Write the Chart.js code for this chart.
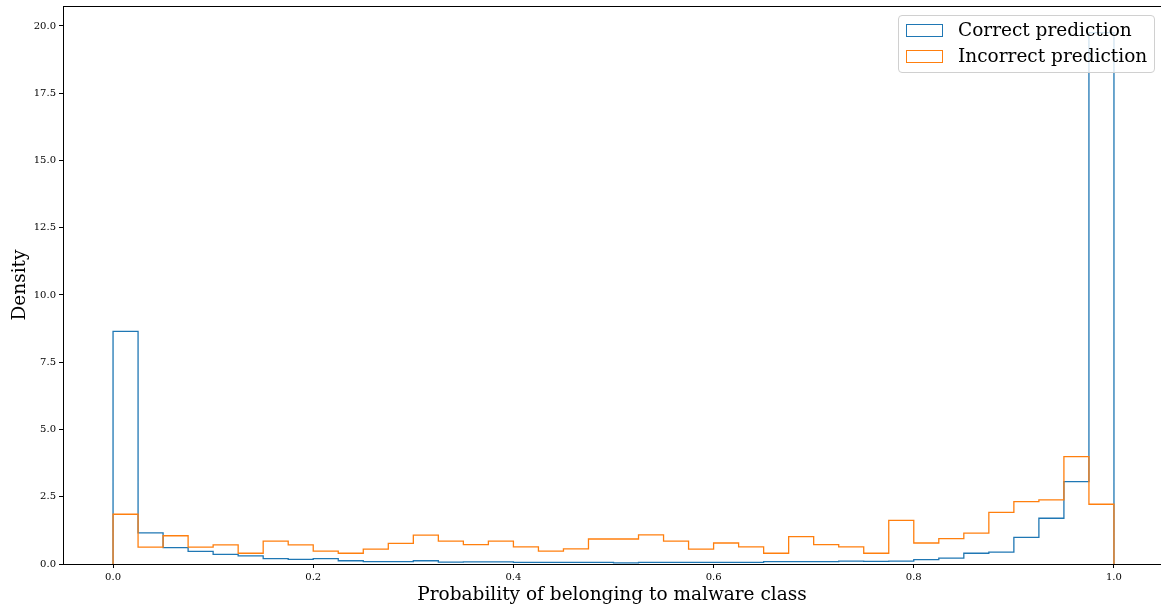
<!DOCTYPE html>
<html>
<head>
<meta charset="utf-8">
<script src="https://cdn.jsdelivr.net/npm/chart.js@4/dist/chart.umd.min.js"></script>
<style>
  html, body { margin: 0; padding: 0; background: #fff; }
  #wrap { position: relative; width: 1161px; height: 606px; }
  #legend {
    position: absolute; left: 898px; top: 15px; width: 257px; height: 58px;
    background: rgba(255,255,255,0.8); border: 1px solid #d0d0d0; border-radius: 4px;
    box-sizing: border-box; font-family: "DejaVu Serif", serif; font-size: 18.5px; color: #000;
  }
  .legend-item { position: absolute; left: 7px; height: 22px; line-height: 22px; }
  .legend-color { position: absolute; left: 0; top: 4px; width: 37px; height: 13px; box-sizing: border-box; border: 1.2px solid; }
  .legend-name { position: absolute; left: 52px; top: -1px; white-space: nowrap; }
</style>
</head>
<body>
<div id="wrap">
  <canvas id="chart" width="1161" height="606"></canvas>
  <div id="legend"></div>
</div>
<script>
'use strict';

// ---- data: density per bin (40 bins of width 0.025 over [0, 1]) ----
const BIN_WIDTH = 0.025;
const binEdges = Array.from({ length: 41 }, (_, i) => +(i * BIN_WIDTH).toFixed(3));

const correctDensity = [
  8.65, 1.16, 0.61, 0.47, 0.36, 0.30, 0.20, 0.17, 0.20, 0.12,
  0.09, 0.09, 0.12, 0.07, 0.08, 0.08, 0.06, 0.06, 0.06, 0.06,
  0.04, 0.06, 0.06, 0.06, 0.06, 0.06, 0.09, 0.09, 0.09, 0.11,
  0.10, 0.11, 0.16, 0.22, 0.40, 0.44, 0.99, 1.70, 3.06, 19.75,
];

const incorrectDensity = [
  1.85, 0.63, 1.05, 0.63, 0.71, 0.40, 0.85, 0.71, 0.48, 0.40,
  0.55, 0.77, 1.07, 0.85, 0.72, 0.85, 0.64, 0.48, 0.56, 0.93,
  0.93, 1.08, 0.85, 0.55, 0.78, 0.64, 0.40, 1.02, 0.72, 0.64,
  0.40, 1.62, 0.78, 0.94, 1.15, 1.92, 2.32, 2.38, 3.99, 2.22,
];

const xTicks = [0.0, 0.2, 0.4, 0.6, 0.8, 1.0];
const yTicks = [0.0, 2.5, 5.0, 7.5, 10.0, 12.5, 15.0, 17.5, 20.0];

const SERIES = [
  { label: 'Correct prediction',   color: '#1f77b4', values: correctDensity },
  { label: 'Incorrect prediction', color: '#ff7f0e', values: incorrectDensity },
];

const TICK_FONT  = { family: '"DejaVu Serif", serif', size: 10 };
const TITLE_FONT = { family: '"DejaVu Serif", serif', size: 18.5 };

// step outline points for histtype='step'
function stepPoints(values) {
  const pts = [{ x: binEdges[0], y: 0 }];
  values.forEach((v, i) => pts.push({ x: binEdges[i], y: v }));
  pts.push({ x: binEdges[binEdges.length - 1], y: values[values.length - 1] });
  pts.push({ x: binEdges[binEdges.length - 1], y: 0 });
  return pts;
}

// four-sided frame like matplotlib spines
const framePlugin = {
  id: 'frame',
  afterDraw(chart) {
    const { ctx, chartArea: a } = chart;
    ctx.save();
    ctx.strokeStyle = '#000';
    ctx.lineWidth = 1;
    ctx.strokeRect(Math.round(a.left) + 0.5, Math.round(a.top) + 0.5,
                   Math.round(a.right - a.left), Math.round(a.bottom - a.top));
    ctx.restore();
  },
};

new Chart(document.getElementById('chart'), {
  type: 'line',
  data: {
    datasets: SERIES.map((s, i) => ({
      label: s.label,
      data: stepPoints(s.values),
      stepped: 'before',
      borderColor: s.color,
      borderWidth: 1.3,
      pointRadius: 0,
      fill: false,
      order: SERIES.length - i,
    })),
  },
  options: {
    responsive: false,
    animation: false,
    layout: { padding: 0 },
    plugins: { legend: { display: false }, tooltip: { enabled: false } },
    scales: {
      x: {
        type: 'linear',
        min: -0.05,
        max: 1.047,
        afterBuildTicks: axis => { axis.ticks = xTicks.map(v => ({ value: v })); },
        afterFit: axis => { axis.height = 42; },
        ticks: { font: TICK_FONT, color: '#000', padding: 3, maxRotation: 0,
                 callback: v => v.toFixed(1) },
        grid: { drawOnChartArea: false, drawTicks: true, tickLength: 4, color: '#000' },
        border: { color: '#000' },
        title: { display: true, text: 'Probability of belonging to malware class',
                 font: TITLE_FONT, color: '#000', padding: { top: 0, bottom: 0 } },
      },
      y: {
        min: 0,
        max: 20.74,
        afterBuildTicks: axis => { axis.ticks = yTicks.map(v => ({ value: v })); },
        afterFit: axis => { axis.width = 63; axis.paddingTop = 6; },
        ticks: { font: TICK_FONT, color: '#000', padding: 3,
                 callback: v => v.toFixed(1) },
        grid: { drawOnChartArea: false, drawTicks: true, tickLength: 4, color: '#000' },
        border: { color: '#000' },
        title: { display: true, text: 'Density', font: TITLE_FONT, color: '#000',
                 padding: { top: 9, bottom: 0 } },
      },
    },
  },
  plugins: [framePlugin],
});

// legend drawn as real text inside the axes (upper right)
document.getElementById('legend').innerHTML = SERIES.map((s, i) => `
  <div class="legend-item" style="top:${4 + i * 26}px">
    <div class="legend-color" style="border-color:${s.color}"></div>
    <span class="legend-name">${s.label}</span>
  </div>`).join('');
</script>
</body>
</html>
